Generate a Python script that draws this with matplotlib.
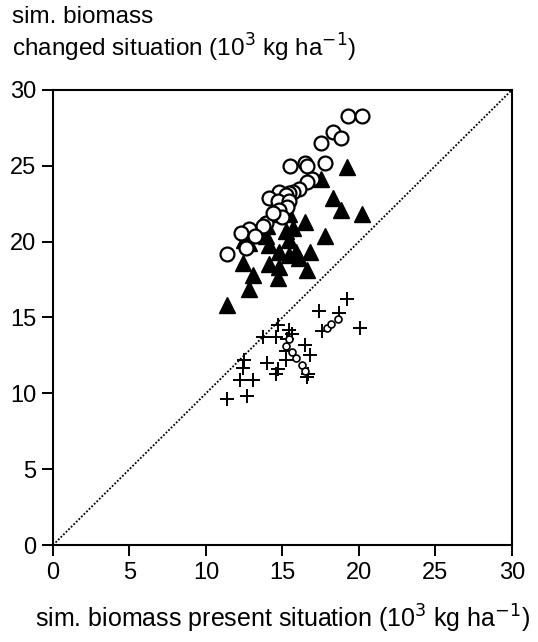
import matplotlib
matplotlib.use("Agg")
import matplotlib.pyplot as plt

plt.rcParams['font.family'] = ['Liberation Sans', 'DejaVu Sans']

# open circles: changed situation, scenario 1
circ_x = [19.3, 20.2, 18.3, 18.8, 17.5, 15.5, 16.5, 16.6, 17.8, 16.9, 16.6, 16.1,
          15.7, 15.4, 14.8, 15.2, 14.1, 14.7, 15.4, 15.3, 14.8, 13.9, 13.7, 12.8,
          12.3, 13.2, 12.6, 11.4, 15.0, 14.4]
circ_y = [28.3, 28.3, 27.2, 26.8, 26.5, 25.0, 25.2, 25.0, 25.2, 24.1, 23.9, 23.5,
          23.3, 23.2, 23.3, 23.1, 22.9, 22.7, 22.7, 22.3, 22.1, 21.2, 21.0, 20.8,
          20.6, 20.4, 19.6, 19.2, 21.6, 21.9]

# filled triangles: scenario 2
tri_x = [19.2, 17.5, 18.3, 18.8, 20.2, 17.8, 16.5, 15.4, 14.8, 15.7, 14.0, 14.1,
         15.4, 14.8, 15.9, 16.8, 15.4, 16.1, 12.4, 14.1, 14.8, 16.6, 13.1, 14.7,
         12.8, 11.4, 12.5, 15.2, 12.8, 13.9]
tri_y = [24.9, 24.1, 22.9, 22.1, 21.8, 20.4, 21.3, 21.8, 21.8, 20.9, 21.0, 19.8,
         20.1, 19.3, 19.3, 19.3, 19.1, 18.9, 18.6, 18.5, 18.3, 18.1, 17.8, 17.6,
         16.9, 15.8, 20.1, 20.7, 19.9, 20.4]

# crosses: scenario 3
cross_x = [19.2, 17.4, 18.7, 17.6, 20.1, 14.7, 15.4, 13.7, 14.6, 15.3, 16.5, 16.8,
           12.5, 12.4, 14.0, 14.7, 14.6, 12.2, 13.1, 15.2, 16.6, 16.7, 11.4, 12.7,
           15.2, 15.6]
cross_y = [16.2, 15.4, 15.3, 14.1, 14.3, 14.5, 14.2, 13.7, 13.7, 13.6, 13.2, 12.5,
           12.2, 11.7, 12.0, 11.6, 11.3, 10.9, 10.9, 12.2, 11.1, 11.3, 9.6, 9.8,
           12.8, 13.9]

# small open circles: scenario 4
small_x = [15.2, 15.4, 15.6, 15.9, 16.3, 16.5, 17.9, 18.2, 18.6]
small_y = [13.1, 13.6, 12.7, 12.3, 11.9, 11.5, 14.3, 14.6, 14.9]

ticks = [0, 5, 10, 15, 20, 25, 30]

fig = plt.figure(figsize=(5.38, 6.42), dpi=100)
ax = fig.add_axes([0.0985, 0.151, 0.853, 0.709])

ax.plot([0, 30], [0, 30], color='black', linestyle=(0, (1, 1)), linewidth=1.3, zorder=1)

ax.plot(cross_x, cross_y, linestyle='none', marker='+', markersize=10,
        markeredgewidth=1.4, color='black', zorder=2)
ax.plot(small_x, small_y, linestyle='none', marker='o', markersize=5,
        markerfacecolor='white', markeredgecolor='black', markeredgewidth=1.2, zorder=3)
ax.plot(tri_x, tri_y, linestyle='none', marker='^', markersize=11,
        color='black', zorder=3)
ax.plot(circ_x, circ_y, linestyle='none', marker='o', markersize=10,
        markerfacecolor='white', markeredgecolor='black', markeredgewidth=1.6, zorder=4)

ax.set_xlim(0, 30)
ax.set_ylim(0, 30)
ax.set_xticks(ticks)
ax.set_yticks(ticks)
ax.tick_params(direction='out', length=8, width=1.4, labelsize=17, pad=4)
for s in ax.spines.values():
    s.set_linewidth(1.5)

ax.set_xlabel('sim. biomass present situation (10$^3$ kg ha$^{-1}$)', fontsize=18, labelpad=14)
fig.text(0.022, 0.99, 'sim. biomass\nchanged situation (10$^3$ kg ha$^{-1}$)',
         fontsize=17.5, ha='left', va='top', linespacing=1.12)

fig.savefig('out.png', dpi=100)
